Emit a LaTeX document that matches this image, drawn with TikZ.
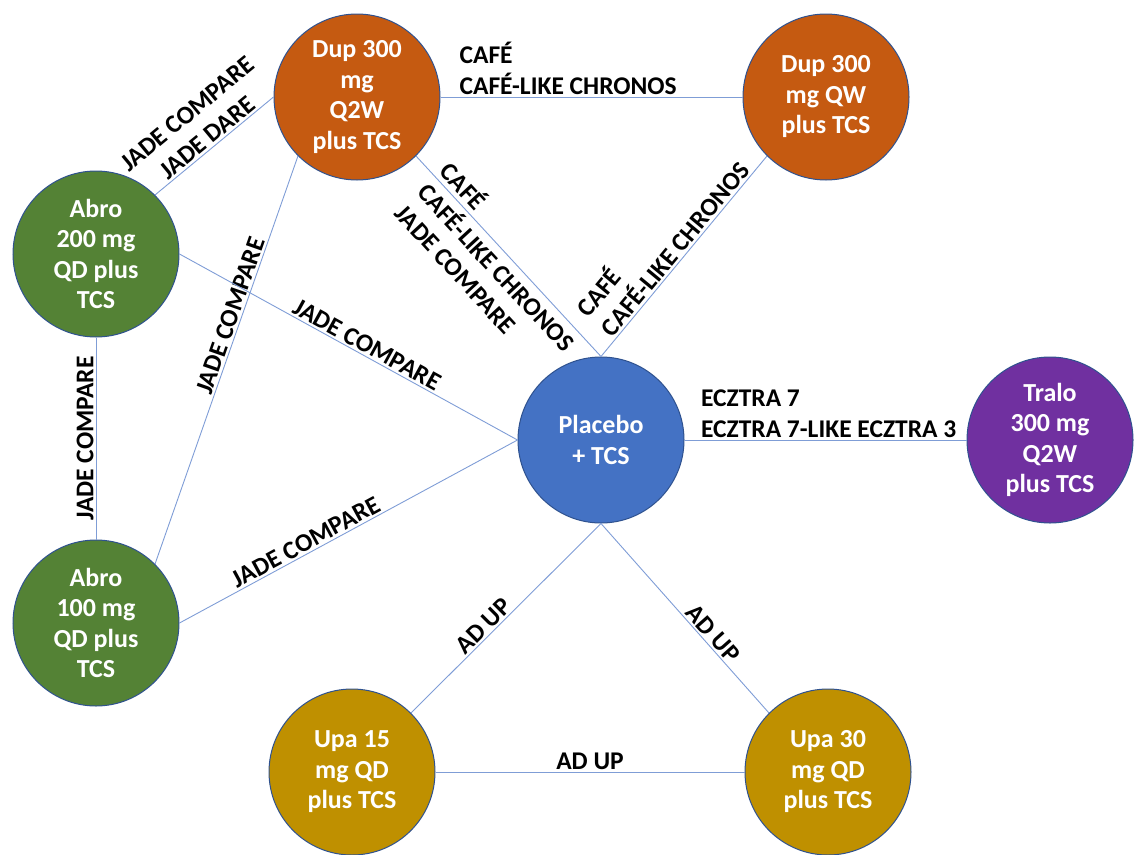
\documentclass[tikz,border=0pt]{standalone}
\usepackage{fontspec}
\setmainfont{Carlito}
\usepackage{xcolor}

\definecolor{dupc}{HTML}{C55A11}
\definecolor{abroc}{HTML}{548235}
\definecolor{placc}{HTML}{4472C4}
\definecolor{traloc}{HTML}{7030A0}
\definecolor{upac}{HTML}{BF9000}
\definecolor{rimc}{HTML}{2F528F}
\definecolor{edgec}{HTML}{7F9DD6}

\tikzset{
  arm/.style={circle, draw=rimc, line width=1pt, minimum size=166pt, inner sep=0pt,
    text=white, align=center, font=\fontsize{26}{30.5}\selectfont\bfseries},
  link/.style={draw=edgec, line width=0.9pt},
  lbl/.style={font=\fontsize{25.5}{31}\selectfont\bfseries, sloped, inner sep=2pt, align=center}
}

\begin{document}
\begin{tikzpicture}[x=1pt,y=-1pt]
    \useasboundingbox (0,0) rectangle (1135,854);

    % Treatment arms
    \node[arm, fill=dupc] (dupq2w) at (357,97) {Dup 300\\mg\\Q2W\\plus TCS};
    \node[arm, fill=dupc] (dupqw) at (826,97) {Dup 300\\mg QW\\plus TCS};
    \node[arm, fill=abroc] (abro200) at (96,254) {Abro\\200 mg\\QD plus\\TCS};
    \node[arm, fill=abroc] (abro100) at (96,623) {Abro\\100 mg\\QD plus\\TCS};
    \node[arm, fill=placc] (placebo) at (601,440) {Placebo\\+ TCS};
    \node[arm, fill=traloc] (tralo) at (1050,440) {Tralo\\300 mg\\Q2W\\plus TCS};
    \node[arm, fill=upac] (upa15) at (352,772) {Upa 15\\mg QD\\plus TCS};
    \node[arm, fill=upac] (upa30) at (828,772) {Upa 30\\mg QD\\plus TCS};

    % Dupilumab trials
    \draw[link] (dupq2w.east) -- node[lbl, pos=0.055, anchor=south west, align=left] {CAF\'E\\CAF\'E-LIKE CHRONOS} (dupqw.west);
    \draw[link] (dupq2w.south east) -- node[lbl, pos=0.5, align=left, yshift=-15pt] {CAF\'E\\CAF\'E-LIKE CHRONOS\\JADE COMPARE} (placebo.north);
    \draw[link] (placebo.north) -- node[lbl, pos=0.5, above, align=left] {CAF\'E\\CAF\'E-LIKE CHRONOS} (dupqw.south west);

    % Abrocitinib trials
    \draw[link] (abro200.north east) -- node[lbl, pos=0.5, above] {JADE COMPARE\\JADE DARE} (dupq2w.west);
    \draw[link] (abro100.north east) -- node[lbl, pos=0.6, above] {JADE COMPARE} (dupq2w.south west);
    \draw[link] (abro100.north) -- node[lbl, pos=0.5, above] {JADE COMPARE} (abro200.south);
    \draw[link] (abro200.east) -- node[lbl, pos=0.54, above] {JADE COMPARE} (placebo.west);
    \draw[link] (abro100.east) -- node[lbl, pos=0.39, above] {JADE COMPARE} (placebo.west);

    % Tralokinumab
    \draw[link] (placebo.east) -- node[lbl, pos=0.05, anchor=south west, align=left] {ECZTRA 7\\ECZTRA 7-LIKE ECZTRA 3} (tralo.west);

    % Upadacitinib
    \draw[link] (upa15.north east) -- node[lbl, pos=0.42, above] {AD UP} (placebo.south);
    \draw[link] (placebo.south) -- node[lbl, pos=0.62, above] {AD UP} (upa30.north west);
    \draw[link] (upa15.east) -- node[lbl, pos=0.5, above] {AD UP} (upa30.west);
\end{tikzpicture}
\end{document}
